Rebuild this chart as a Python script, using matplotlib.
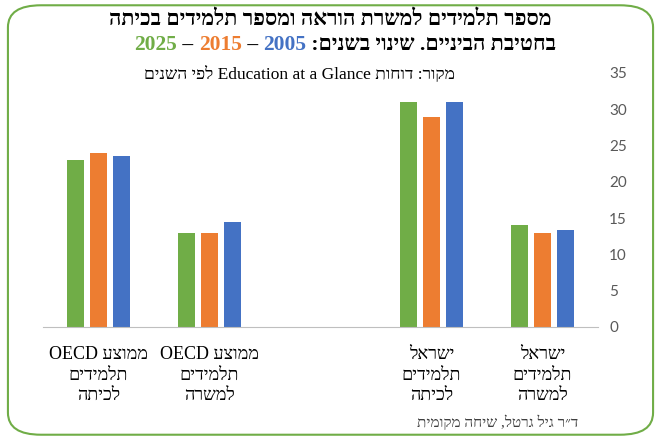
import re
import matplotlib
matplotlib.use("Agg")
import matplotlib.pyplot as plt
from matplotlib.patches import FancyBboxPatch

def rtl(s):
    r = s[::-1]
    return re.sub(r'[A-Za-z0-9][A-Za-z0-9 .]*[A-Za-z0-9]', lambda m: m.group()[::-1], r)

categories = ["ממוצע OECD\nתלמידים\nלכיתה", "ממוצע OECD\nתלמידים\nלמשרה", "",
              "ישראל\nתלמידים\nלכיתה", "ישראל\nתלמידים\nלמשרה"]
v2025 = [23, 13, None, 31, 14.1]
v2015 = [24, 13, None, 29, 13]
v2005 = [23.6, 14.4, None, 31, 13.4]
yticks = [0, 5, 10, 15, 20, 25, 30, 35]

GREEN, ORANGE, BLUE = "#70ad47", "#ed7d31", "#4472c4"
plt.rcParams['font.family'] = ['Liberation Serif', 'DejaVu Sans']

fig = plt.figure(figsize=(6.61, 4.40), dpi=100)
fig.patches.append(FancyBboxPatch((0.012, 0.012), 0.976, 0.976, boxstyle="round,pad=0,rounding_size=0.05",
                                  transform=fig.transFigure, fill=False, ec=GREEN, lw=1.5))
ax = fig.add_axes([43/661, 1-327/440, (598-43)/661, (327-73)/440])
w, off = 0.16, 0.207
for vals, c, d in [(v2025, GREEN, -off), (v2015, ORANGE, 0), (v2005, BLUE, off)]:
    xs = [i + d for i, v in enumerate(vals) if v is not None]
    ys = [v for v in vals if v is not None]
    ax.bar(xs, ys, width=w, color=c)
ax.set_xlim(-0.5, 4.5)
ax.set_ylim(0, 35)
ax.set_yticks(yticks)
ax.yaxis.tick_right()
ax.tick_params(axis='y', length=0, labelsize=11, colors="#595959", pad=8)
for t in ax.get_yticklabels():
    t.set_fontfamily(['Lato', 'DejaVu Sans'])
ax.set_xticks(range(5))
ax.set_xticklabels(["\n".join(rtl(l) for l in c.split("\n")) for c in categories], fontsize=13, linespacing=1.25)
ax.tick_params(axis='x', length=0, pad=14)
for s in ['top', 'right', 'left']:
    ax.spines[s].set_visible(False)
ax.spines['bottom'].set_color("#bfbfbf")
ax.patch.set_alpha(0)

fig.text(0.5, 1-20/440, rtl("מספר תלמידים למשרת הוראה ומספר תלמידים בכיתה"), ha='center', va='center',
         fontsize=15.5, fontweight='bold')
fig.canvas.draw()
r = fig.canvas.get_renderer()
x = 556
y = 1-45/440
parts = [(rtl("בחטיבת הביניים. שינוי בשנים: "), 'black'), ("2005", BLUE), (" – ", 'black'),
         ("2015", ORANGE), (" – ", 'black'), ("2025", GREEN)]
for txt, col in parts:
    t = fig.text(x/661, y, txt, ha='right', va='center', fontsize=15.5, fontweight='bold', color=col)
    bb = t.get_window_extent(r)
    x -= bb.width
fig.text(300/661, 1-75/440, rtl("מקור: דוחות Education at a Glance לפי השנים"), ha='center', va='center', fontsize=12.5)
fig.text(498/661, 1-422/440, rtl("ד״ר גיל גרטל, שיחה מקומית"), ha='center', va='center', fontsize=11, color="#404040")
fig.savefig("out.png", dpi=100)
